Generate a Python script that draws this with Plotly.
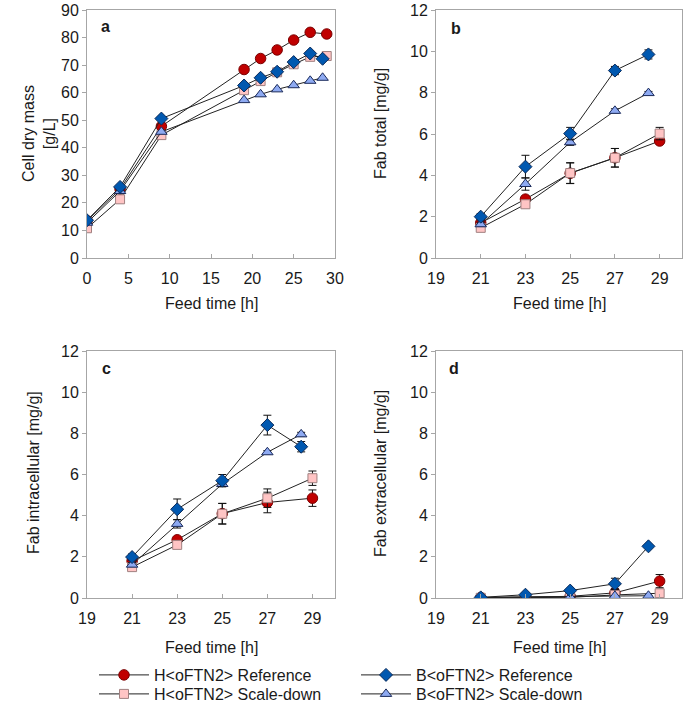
import plotly.graph_objects as go

# ---------------- data ----------------
t_a_H = [0, 4, 9, 19, 21, 23, 25, 27, 29]
t_a_B = [0, 4, 9, 19, 21, 23, 25, 27, 28.5]
cdm_H_ref = [13.5, 25.0, 47.8, 68.4, 72.4, 75.5, 79.1, 81.9, 81.3]
cdm_H_sd = [10.8, 21.3, 44.6, 60.9, 64.2, 67.4, 70.3, 73.0, 73.3]
cdm_B_ref = [13.7, 25.8, 50.6, 62.6, 65.4, 67.6, 71.1, 74.2, 72.3]
cdm_B_sd = [12.8, 24.3, 45.8, 57.3, 59.4, 61.2, 62.7, 64.3, 65.4]

t_H = [21, 23, 25, 27, 29]
t_B = [21, 23, 25, 27, 28.5]

tot_H_ref = [1.70, 2.85, 4.10, 4.85, 5.66]
tot_H_ref_err = [0.15, 0.15, 0.50, 0.45, 0.15]
tot_H_sd = [1.46, 2.60, 4.11, 4.85, 6.02]
tot_H_sd_err = [0.15, 0.15, 0.50, 0.45, 0.30]
tot_B_ref = [2.00, 4.42, 6.02, 9.07, 9.85]
tot_B_ref_err = [0.15, 0.55, 0.30, 0.20, 0.22]
tot_B_sd = [1.63, 3.58, 5.60, 7.12, 7.98]
tot_B_sd_err = [0.10, 0.30, 0.15, 0.10, 0.08]

int_H_ref = [1.80, 2.83, 4.10, 4.64, 4.85]
int_H_ref_err = [0.15, 0.10, 0.50, 0.50, 0.40]
int_H_sd = [1.50, 2.58, 4.09, 4.85, 5.82]
int_H_sd_err = [0.15, 0.10, 0.50, 0.45, 0.35]
int_B_ref = [1.99, 4.31, 5.70, 8.40, 7.35]
int_B_ref_err = [0.15, 0.50, 0.30, 0.48, 0.25]
int_B_sd = [1.62, 3.60, 5.54, 7.08, 7.95]
int_B_sd_err = [0.10, 0.20, 0.10, 0.08, 0.10]

ext_H_ref = [0.02, 0.05, 0.08, 0.25, 0.82]
ext_H_ref_err = [0.02, 0.03, 0.05, 0.20, 0.32]
ext_H_sd = [0.01, 0.02, 0.03, 0.15, 0.23]
ext_H_sd_err = [0.01, 0.02, 0.03, 0.28, 0.20]
ext_B_ref = [0.03, 0.16, 0.36, 0.69, 2.51]
ext_B_ref_err = [0.02, 0.05, 0.05, 0.27, 0.05]
ext_B_sd = [0.03, 0.05, 0.05, 0.10, 0.11]
ext_B_sd_err = [0.01, 0.01, 0.01, 0.02, 0.02]

names = ["H<oFTN2> Reference", "H<oFTN2> Scale-down",
         "B<oFTN2> Reference", "B<oFTN2> Scale-down"]

# ---------------- styles ----------------
FONT = "Liberation Sans, Arial, sans-serif"
TXT = "#1a1a1a"
styles = {
    names[0]: dict(symbol="circle", size=10.5, color="#c00000", line=dict(color="#7a0000", width=1)),
    names[1]: dict(symbol="square", size=9, color="#ffc4c4", line=dict(color="#a08080", width=1)),
    names[2]: dict(symbol="diamond", size=10, color="#0058b0", line=dict(color="#0a2a5a", width=1)),
    names[3]: dict(symbol="triangle-up", size=10, color="#8eaaf2", line=dict(color="#1a2a5a", width=1)),
}
legend_ids = {names[0]: "legend", names[2]: "legend2", names[1]: "legend3", names[3]: "legend4"}

fig = go.Figure()

panels = [
    ("x", "y", [(names[0], t_a_H, cdm_H_ref, None), (names[1], t_a_H, cdm_H_sd, None),
                (names[3], t_a_B, cdm_B_sd, None), (names[2], t_a_B, cdm_B_ref, None)]),
    ("x2", "y2", [(names[0], t_H, tot_H_ref, tot_H_ref_err), (names[1], t_H, tot_H_sd, tot_H_sd_err),
                  (names[3], t_B, tot_B_sd, tot_B_sd_err), (names[2], t_B, tot_B_ref, tot_B_ref_err)]),
    ("x3", "y3", [(names[0], t_H, int_H_ref, int_H_ref_err), (names[1], t_H, int_H_sd, int_H_sd_err),
                  (names[3], t_B, int_B_sd, int_B_sd_err), (names[2], t_B, int_B_ref, int_B_ref_err)]),
    ("x4", "y4", [(names[0], t_H, ext_H_ref, ext_H_ref_err), (names[1], t_H, ext_H_sd, ext_H_sd_err),
                  (names[3], t_B, ext_B_sd, ext_B_sd_err), (names[2], t_B, ext_B_ref, ext_B_ref_err)]),
]

for pi, (xa, ya, series) in enumerate(panels):
    for name, xs, ys, err in series:
        kw = {}
        if err is not None:
            kw["error_y"] = dict(type="data", array=err, visible=True, color="#111111",
                                 thickness=1, width=4)
        fig.add_trace(go.Scatter(
            x=xs, y=ys, name=name, mode="lines+markers",
            line=dict(color="#222222", width=1),
            marker=styles[name],
            xaxis=xa, yaxis=ya,
            showlegend=(pi == 0),
            legend=legend_ids[name],
            **kw))

# ---------------- layout ----------------
W, H = 685, 706
def px_x(v): return v / W
def px_y(v): return 1 - v / H

left_dom = [px_x(87), px_x(335)]
right_dom = [px_x(436), px_x(682)]
top_dom = [px_y(258), px_y(10)]
bot_dom = [px_y(598), px_y(351)]

axis_common = dict(showline=True, linecolor="#a6a6a6", linewidth=1, mirror=True,
                   showgrid=False, zeroline=False, tickcolor="#a6a6a6", automargin=False,
                   ticklabeloverflow="allow",
                   tickfont=dict(family=FONT, size=16, color=TXT))
xt = dict(ticks="inside", ticklen=4, ticklabelstandoff=6)
yt = dict(ticks="outside", ticklen=4)

layout = dict(
    template="none",
    width=W, height=H,
    margin=dict(l=0, r=0, t=0, b=0, autoexpand=False),
    paper_bgcolor="white", plot_bgcolor="white",
    font=dict(family=FONT, size=16, color=TXT),
    xaxis=dict(domain=left_dom, anchor="y", range=[0, 30], tickvals=[0, 5, 10, 15, 20, 25, 30],
               **xt, **axis_common),
    yaxis=dict(domain=top_dom, anchor="x", range=[0, 90], tickvals=list(range(0, 91, 10)),
               **yt, **axis_common),
    xaxis2=dict(domain=right_dom, anchor="y2", range=[19, 30], tickvals=[19, 21, 23, 25, 27, 29],
                **xt, **axis_common),
    yaxis2=dict(domain=top_dom, anchor="x2", range=[0, 12], tickvals=list(range(0, 13, 2)),
                **yt, **axis_common),
    xaxis3=dict(domain=left_dom, anchor="y3", range=[19, 30], tickvals=[19, 21, 23, 25, 27, 29],
                **xt, **axis_common),
    yaxis3=dict(domain=bot_dom, anchor="x3", range=[0, 12], tickvals=list(range(0, 13, 2)),
                **yt, **axis_common),
    xaxis4=dict(domain=right_dom, anchor="y4", range=[19, 30], tickvals=[19, 21, 23, 25, 27, 29],
                **xt, **axis_common),
    yaxis4=dict(domain=bot_dom, anchor="x4", range=[0, 12], tickvals=list(range(0, 13, 2)),
                **yt, **axis_common),
    showlegend=True,
)

leg_common = dict(bgcolor="rgba(0,0,0,0)", borderwidth=0, xanchor="left", yanchor="middle",
                  font=dict(family=FONT, size=16, color=TXT), itemwidth=50,
                  orientation="v", tracegroupgap=0)
layout["legend"] = dict(x=px_x(94), y=px_y(675), **leg_common)
layout["legend3"] = dict(x=px_x(94), y=px_y(694), **leg_common)
layout["legend2"] = dict(x=px_x(356), y=px_y(675), **leg_common)
layout["legend4"] = dict(x=px_x(356), y=px_y(694), **leg_common)

fig.update_layout(**layout)

ann = []
def add_text(x, y, text, angle=0, anchor="center"):
    ann.append(dict(x=px_x(x), y=px_y(y), xref="paper", yref="paper", text=text,
                    showarrow=False, textangle=angle, xanchor=anchor, yanchor="middle",
                    font=dict(family=FONT, size=16, color=TXT)))

# axis titles
add_text(39, 134, "Cell dry mass<br>[g/L]", angle=-90)
add_text(380, 124, "Fab total [mg/g]", angle=-90)
add_text(33, 473, "Fab intracellular [mg/g]", angle=-90)
add_text(380, 474, "Fab extracellular [mg/g]", angle=-90)
add_text(211, 303, "Feed time [h]")
add_text(559, 303, "Feed time [h]")
add_text(211, 647, "Feed time [h]")
add_text(559, 647, "Feed time [h]")
# panel labels
add_text(99, 27, "<b>a</b>", anchor="left")
add_text(449, 28, "<b>b</b>", anchor="left")
add_text(100, 368, "<b>c</b>", anchor="left")
add_text(447, 369, "<b>d</b>", anchor="left")

fig.update_layout(annotations=ann)
fig.write_html("out.html", config={"displayModeBar": False},
               post_script="document.body.style.margin='0';")
